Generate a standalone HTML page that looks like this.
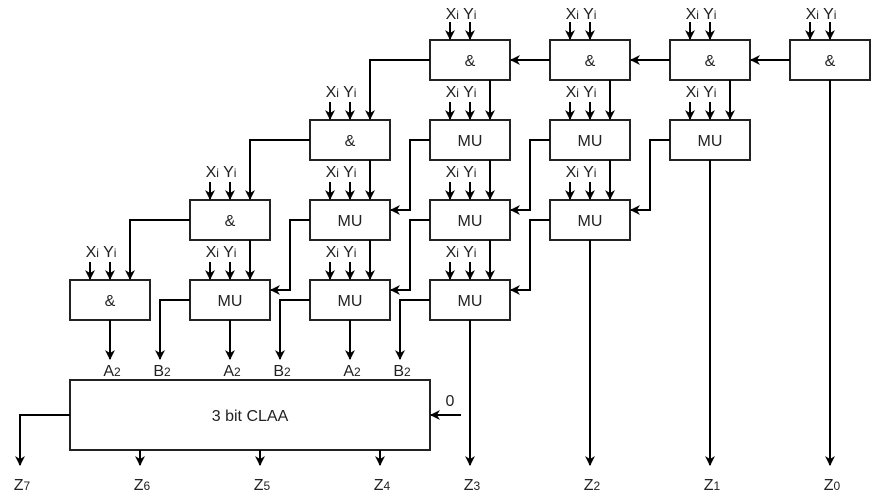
<!DOCTYPE html>
<html><head><style>body{margin:0;background:#fff}svg{display:block}text{font-family:"Liberation Sans",sans-serif;fill:#222}</style></head><body>
<svg width="872" height="496" viewBox="0 0 872 496" xmlns="http://www.w3.org/2000/svg">
<defs><marker id="a" markerWidth="10" markerHeight="10" refX="9" refY="5" orient="auto" markerUnits="userSpaceOnUse"><path d="M0,0 L10,5 L0,10 L3,5 Z" fill="#000"/></marker></defs>
<g fill="#fff" stroke="#222" stroke-width="2">
<rect x="430" y="40" width="80" height="40"/><rect x="550" y="40" width="80" height="40"/><rect x="670" y="40" width="80" height="40"/><rect x="790" y="40" width="80" height="40"/>
<rect x="310" y="120" width="80" height="40"/><rect x="430" y="120" width="80" height="40"/><rect x="550" y="120" width="80" height="40"/><rect x="670" y="120" width="80" height="40"/>
<rect x="190" y="200" width="80" height="40"/><rect x="310" y="200" width="80" height="40"/><rect x="430" y="200" width="80" height="40"/><rect x="550" y="200" width="80" height="40"/>
<rect x="70" y="280" width="80" height="40"/><rect x="190" y="280" width="80" height="40"/><rect x="310" y="280" width="80" height="40"/><rect x="430" y="280" width="80" height="40"/>
<rect x="70" y="380" width="360" height="70"/>
</g>
<g font-size="16" text-anchor="middle">
<text x="470" y="66">&amp;</text><text x="590" y="66">&amp;</text><text x="710" y="66">&amp;</text><text x="830" y="66">&amp;</text>
<text x="350" y="146">&amp;</text><text x="470" y="146">MU</text><text x="590" y="146">MU</text><text x="710" y="146">MU</text>
<text x="230" y="226">&amp;</text><text x="350" y="226">MU</text><text x="470" y="226">MU</text><text x="590" y="226">MU</text>
<text x="110" y="306">&amp;</text><text x="230" y="306">MU</text><text x="350" y="306">MU</text><text x="470" y="306">MU</text>
<text x="250" y="421">3 bit CLAA</text>
<text x="450" y="406">0</text>
</g>
<g font-size="16" text-anchor="middle">
<text x="461" y="19">X<tspan font-size="12">i</tspan> Y<tspan font-size="12">i</tspan></text>
<text x="581" y="19">X<tspan font-size="12">i</tspan> Y<tspan font-size="12">i</tspan></text>
<text x="701" y="19">X<tspan font-size="12">i</tspan> Y<tspan font-size="12">i</tspan></text>
<text x="821" y="19">X<tspan font-size="12">i</tspan> Y<tspan font-size="12">i</tspan></text>
<text x="341" y="97">X<tspan font-size="12">i</tspan> Y<tspan font-size="12">i</tspan></text>
<text x="461" y="97">X<tspan font-size="12">i</tspan> Y<tspan font-size="12">i</tspan></text>
<text x="581" y="97">X<tspan font-size="12">i</tspan> Y<tspan font-size="12">i</tspan></text>
<text x="701" y="97">X<tspan font-size="12">i</tspan> Y<tspan font-size="12">i</tspan></text>
<text x="221" y="177">X<tspan font-size="12">i</tspan> Y<tspan font-size="12">i</tspan></text>
<text x="341" y="177">X<tspan font-size="12">i</tspan> Y<tspan font-size="12">i</tspan></text>
<text x="461" y="177">X<tspan font-size="12">i</tspan> Y<tspan font-size="12">i</tspan></text>
<text x="581" y="177">X<tspan font-size="12">i</tspan> Y<tspan font-size="12">i</tspan></text>
<text x="101" y="257">X<tspan font-size="12">i</tspan> Y<tspan font-size="12">i</tspan></text>
<text x="221" y="257">X<tspan font-size="12">i</tspan> Y<tspan font-size="12">i</tspan></text>
<text x="341" y="257">X<tspan font-size="12">i</tspan> Y<tspan font-size="12">i</tspan></text>
<text x="461" y="257">X<tspan font-size="12">i</tspan> Y<tspan font-size="12">i</tspan></text>
<text x="112" y="376">A<tspan font-size="12">2</tspan></text><text x="162" y="376">B<tspan font-size="12">2</tspan></text>
<text x="232" y="376">A<tspan font-size="12">2</tspan></text><text x="282" y="376">B<tspan font-size="12">2</tspan></text>
<text x="352" y="376">A<tspan font-size="12">2</tspan></text><text x="402" y="376">B<tspan font-size="12">2</tspan></text>
<text x="22" y="490">Z<tspan font-size="12">7</tspan></text><text x="142" y="490">Z<tspan font-size="12">6</tspan></text>
<text x="262" y="490">Z<tspan font-size="12">5</tspan></text><text x="382" y="490">Z<tspan font-size="12">4</tspan></text>
<text x="472" y="490">Z<tspan font-size="12">3</tspan></text><text x="592" y="490">Z<tspan font-size="12">2</tspan></text>
<text x="712" y="490">Z<tspan font-size="12">1</tspan></text><text x="832" y="490">Z<tspan font-size="12">0</tspan></text>
</g>
<g stroke="#000" stroke-width="2" fill="none" marker-end="url(#a)">
<path d="M450,22V39"/><path d="M470,22V39"/><path d="M570,22V39"/><path d="M590,22V39"/><path d="M690,22V39"/><path d="M710,22V39"/><path d="M810,22V39"/><path d="M830,22V39"/>
<path d="M330,102V119"/><path d="M350,102V119"/><path d="M450,102V119"/><path d="M470,102V119"/><path d="M570,102V119"/><path d="M590,102V119"/><path d="M690,102V119"/><path d="M710,102V119"/>
<path d="M210,182V199"/><path d="M230,182V199"/><path d="M330,182V199"/><path d="M350,182V199"/><path d="M450,182V199"/><path d="M470,182V199"/><path d="M570,182V199"/><path d="M590,182V199"/>
<path d="M90,262V279"/><path d="M110,262V279"/><path d="M210,262V279"/><path d="M230,262V279"/><path d="M330,262V279"/><path d="M350,262V279"/><path d="M450,262V279"/><path d="M470,262V279"/>
<path d="M790,60H751"/><path d="M670,60H631"/><path d="M550,60H511"/>
<path d="M430,60H370V119"/>
<path d="M830,80V465"/>
<path d="M730,80V119"/><path d="M610,80V119"/><path d="M490,80V119"/>
<path d="M710,160V465"/>
<path d="M670,140H650V210H631"/>
<path d="M610,160V199"/>
<path d="M550,140H530V210H511"/>
<path d="M490,160V199"/>
<path d="M430,140H410V210H391"/>
<path d="M370,160V199"/>
<path d="M310,140H250V199"/>
<path d="M590,240V465"/>
<path d="M550,220H530V290H511"/>
<path d="M490,240V279"/>
<path d="M430,220H410V290H391"/>
<path d="M370,240V279"/>
<path d="M310,220H290V290H271"/>
<path d="M250,240V279"/>
<path d="M190,220H130V279"/>
<path d="M470,320V465"/>
<path d="M430,300H400V359"/>
<path d="M350,320V359"/>
<path d="M310,300H280V359"/>
<path d="M230,320V359"/>
<path d="M190,300H160V359"/>
<path d="M110,320V359"/>
<path d="M461,415H431"/>
<path d="M70,415H20V465"/>
<path d="M140,450V465"/><path d="M260,450V465"/><path d="M380,450V465"/>
</g>
</svg>
</body></html>
